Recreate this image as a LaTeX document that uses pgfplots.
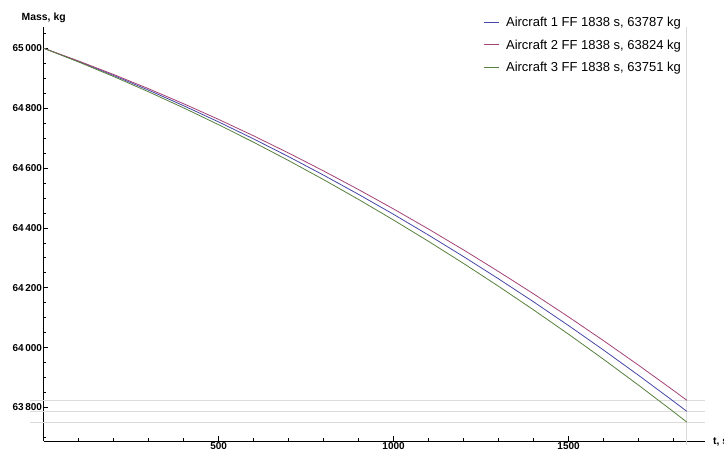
\documentclass[border=0pt]{standalone}
\usepackage{pgfplots}
\pgfplotsset{compat=1.18}
\usepackage{fontspec}
\setmainfont{Liberation Sans}
\definecolor{c1}{rgb}{0.28,0.28,0.66}
\definecolor{c2}{rgb}{0.64,0.26,0.46}
\definecolor{c3}{rgb}{0.34,0.50,0.24}
\definecolor{gridc}{gray}{0.86}
\begin{document}
\begin{tikzpicture}
\begin{axis}[
  at={(0pt,0pt)}, anchor=south west,
  scale only axis, width=661pt, height=413.7pt,
  xmin=0, xmax=1889, ymin=63688, ymax=65070,
  axis x line=bottom, axis y line=left,
  axis line style={-, line width=0.8pt, black},
  clip=false,
  scaled y ticks=false, scaled x ticks=false,
  xtick={500,1000,1500},
  minor xtick={100,200,300,400,600,700,800,900,1100,1200,1300,1400,1600,1700,1800},
  ytick={63800,64000,64200,64400,64600,64800,65000},
  minor ytick={63700,63750,63850,63900,63950,64050,64100,64150,64250,64300,64350,64450,64500,64550,64650,64700,64750,64850,64900,64950,65050},
  tick align=inside, major tick length=4.5pt, minor tick length=2.5pt,
  tick style={line width=0.6pt, black},
  /pgf/number format/.cd, fixed, precision=0, 1000 sep={\,}, assume math mode=true,
  /pgfplots/.cd,
  xticklabel={\pgfmathprintnumber[fixed,precision=0,1000 sep={},assume math mode=true]{\tick}},
  yticklabel={\pgfmathprintnumber[fixed,precision=0,1000 sep={\,},assume math mode=true]{\tick}},
  tick label style={font=\bfseries\fontsize{10}{12}\selectfont},
  xticklabel style={inner sep=1.5pt},
  yticklabel style={inner sep=1.5pt},
  legend style={at={(rel axis cs:0.6646,1.029)}, anchor=north west, draw=none, fill=none,
    font=\fontsize{13}{15}\selectfont, row sep=7.5pt, inner sep=0pt},
  legend cell align=left,
  legend image code/.code={\draw[#1, line width=1pt] (0pt,0.6pt) -- (15pt,0.6pt); \path (20pt,0pt);},
]
\draw[gridc, line width=0.8pt] (axis cs:-40,63824) -- (axis cs:1889,63824);
\draw[gridc, line width=0.8pt] (axis cs:-40,63787) -- (axis cs:1889,63787);
\draw[gridc, line width=0.8pt] (axis cs:-40,63751) -- (axis cs:1889,63751);
\draw[gridc, line width=0.8pt] (axis cs:1838,63675) -- (axis cs:1838,65070);

\addplot[c1, line width=0.8pt] coordinates {
(0,65000) (100,64955.8) (200,64909.0) (300,64859.8) (400,64808.0) (500,64753.8)
(600,64697.0) (700,64637.8) (800,64576.0) (900,64511.7) (1000,64445.0)
(1100,64375.7) (1200,64303.9) (1300,64229.6) (1400,64152.8) (1500,64073.5)
(1600,63991.7) (1700,63907.4) (1800,63820.6) (1838,63787)};
\addlegendentry{Aircraft 1 FF 1838 s, 63787 kg}
\addplot[c2, line width=0.8pt] coordinates {
(0,65000) (100,64957.3) (200,64912.2) (300,64864.7) (400,64814.6) (500,64762.2)
(600,64707.3) (700,64649.9) (800,64590.0) (900,64527.7) (1000,64463.0)
(1100,64395.8) (1200,64326.2) (1300,64254.0) (1400,64179.5) (1500,64102.5)
(1600,64023.0) (1700,63941.1) (1800,63856.7) (1838,63824)};
\addlegendentry{Aircraft 2 FF 1838 s, 63824 kg}
\addplot[c3, line width=0.8pt] coordinates {
(0,65000) (100,64953.9) (200,64905.4) (300,64854.3) (400,64800.7) (500,64744.5)
(600,64685.9) (700,64624.7) (800,64561.0) (900,64494.8) (1000,64426.0)
(1100,64354.8) (1200,64281.0) (1300,64204.7) (1400,64125.9) (1500,64044.6)
(1600,63960.8) (1700,63874.4) (1800,63785.5) (1838,63751)};
\addlegendentry{Aircraft 3 FF 1838 s, 63751 kg}

\node[font=\bfseries\fontsize{10.4}{12}\selectfont, anchor=base] at (rel axis cs:0,1) [yshift=6.8pt] {Mass, kg};
\node[font=\bfseries\fontsize{10.4}{12}\selectfont, anchor=base west] at (rel axis cs:1,0) [xshift=5pt, yshift=-3.6pt] {t, s};
\end{axis}
\pgfresetboundingbox
\path (-43.7pt,-13pt) rectangle (680.3pt,441pt);
\end{tikzpicture}
\end{document}
